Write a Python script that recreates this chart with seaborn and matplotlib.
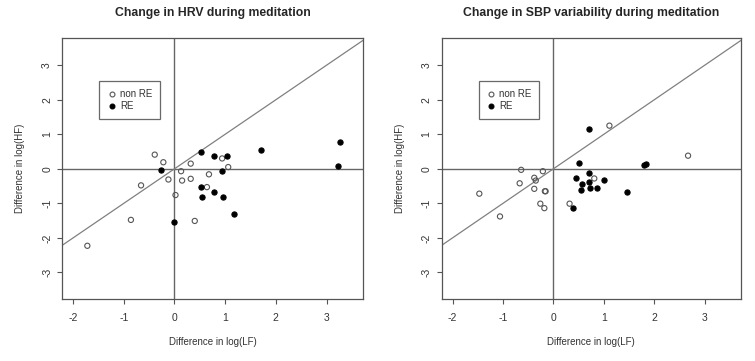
import matplotlib
matplotlib.use("Agg")
import matplotlib.pyplot as plt
from matplotlib.lines import Line2D
import seaborn as sns
import pandas as pd

sns.set_style("white")
plt.rcParams['font.family'] = ['Liberation Sans', 'DejaVu Sans']

# ---- data ----
hrv_nonre_x = [-1.72, -0.86, -0.66, -0.39, -0.22, -0.12, 0.02, 0.13, 0.15, 0.32, 0.32, 0.40, 0.64, 0.68, 0.94, 1.06]
hrv_nonre_y = [-2.23, -1.48, -0.48, 0.41, 0.19, -0.31, -0.76, -0.07, -0.34, 0.15, -0.29, -1.51, -0.53, -0.16, 0.30, 0.05]
hrv_re_x = [-0.26, -0.01, 0.53, 0.52, 0.54, 0.78, 0.78, 0.94, 1.03, 0.96, 1.17, 1.70, 3.22, 3.26]
hrv_re_y = [-0.03, -1.53, 0.49, -0.53, -0.81, 0.36, -0.67, -0.07, 0.36, -0.81, -1.30, 0.55, 0.08, 0.78]

sbp_nonre_x = [-1.47, -1.06, -0.67, -0.64, -0.38, -0.38, -0.35, -0.26, -0.21, -0.18, -0.17, -0.155, 0.32, 0.81, 1.11, 2.67]
sbp_nonre_y = [-0.72, -1.38, -0.42, -0.03, -0.26, -0.58, -0.34, -1.01, -0.07, -1.14, -0.65, -0.65, -1.01, -0.28, 1.25, 0.38]
sbp_re_x = [0.70, 0.50, 0.45, 0.56, 0.54, 0.71, 0.71, 0.72, 0.87, 1.01, 1.46, 0.38, 1.79, 1.83]
sbp_re_y = [1.15, 0.18, -0.26, -0.43, -0.61, -0.13, -0.38, -0.57, -0.57, -0.33, -0.67, -1.14, 0.11, 0.13]

titles = ["Change in HRV during meditation", "Change in SBP variability during meditation"]
xlabel = "Difference in log(LF)"
ylabel = "Difference in log(HF)"
legend_labels = ["non RE", "RE"]
xticks = [-2, -1, 0, 1, 2, 3]
yticks = [-3, -2, -1, 0, 1, 2, 3]

panels = [
    (hrv_nonre_x, hrv_nonre_y, hrv_re_x, hrv_re_y),
    (sbp_nonre_x, sbp_nonre_y, sbp_re_x, sbp_re_y),
]

fig = plt.figure(figsize=(7.55, 3.61), dpi=100)
rects = [[62 / 755, 1 - 299.3 / 361, 301 / 755, 261 / 361],
         [441.5 / 755, 1 - 299.3 / 361, 299.5 / 755, 261 / 361]]

txt = "#333333"
for rect, (nx, ny, rx, ry), title in zip(rects, panels, titles):
    ax = fig.add_axes(rect)
    ax.set_xlim(-2.22, 3.72)
    ax.set_ylim(-3.78, 3.78)
    ax.axhline(0, color="#666666", lw=1.0, zorder=1)
    ax.axvline(0, color="#666666", lw=1.0, zorder=1)
    ax.axline((0, 0), slope=1, color="#808080", lw=0.9, zorder=1)
    dn = pd.DataFrame({"x": nx, "y": ny})
    dr = pd.DataFrame({"x": rx, "y": ry})
    sns.scatterplot(data=dn, x="x", y="y", ax=ax, s=14, marker="o",
                    facecolors="none", edgecolor="#555555", linewidth=0.8, zorder=3)
    sns.scatterplot(data=dr, x="x", y="y", ax=ax, s=14, marker="o",
                    color="black", edgecolor="black", linewidth=0.8, zorder=3)
    ax.set_xticks(xticks)
    ax.set_yticks(yticks)
    ax.set_xticklabels([str(t) for t in xticks], color=txt, fontsize=7.5)
    ax.set_yticklabels([str(t) for t in yticks], color=txt, fontsize=7.5,
                       rotation=90, va="center")
    ax.tick_params(axis="x", length=3.6, width=0.8, color="#555555", pad=6.5, direction="out", bottom=True)
    ax.tick_params(axis="y", length=3.6, width=0.8, color="#555555", pad=3.5, direction="out", left=True)
    for sp in ax.spines.values():
        sp.set_color("#555555")
        sp.set_linewidth(0.9)
    ax.set_xlabel(xlabel, color=txt, fontsize=7, labelpad=10)
    ax.set_ylabel(ylabel, color=txt, fontsize=7, labelpad=12)
    ax.set_title(title, fontsize=8.8, fontweight="bold", pad=16)
    handles = [Line2D([], [], marker="o", ls="none", markersize=3.5,
                      markerfacecolor="none", markeredgecolor="#555555", markeredgewidth=0.8),
               Line2D([], [], marker="o", ls="none", markersize=3.5,
                      markerfacecolor="black", markeredgecolor="black", markeredgewidth=0.8)]
    leg = ax.legend(handles, legend_labels, loc="upper left",
                    bbox_to_anchor=(-1.48, 2.53), bbox_transform=ax.transData,
                    fontsize=7, frameon=True, fancybox=False, borderpad=0.8,
                    handletextpad=0.3, handlelength=1.0, borderaxespad=0,
                    labelspacing=0.2)
    leg.get_frame().set_edgecolor("#444444")
    leg.get_frame().set_linewidth(0.9)
    for t in leg.get_texts():
        t.set_color(txt)

fig.savefig("out.png", dpi=100)
